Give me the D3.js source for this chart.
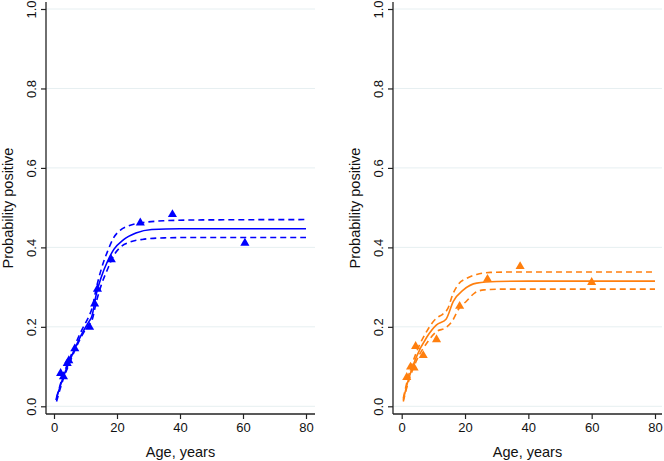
<!DOCTYPE html>
<html>
<head>
<meta charset="utf-8">
<script src="https://cdn.jsdelivr.net/npm/d3@7"></script>
<style>
  body { margin: 0; background: #fff; }
  svg { display: block; font-family: "Liberation Sans", Arial, sans-serif; }
</style>
</head>
<body>
<svg id="chart" width="664" height="461"></svg>
<script>
// tick labels
const xTicks = [0, 20, 40, 60, 80]
const yTicks = [0, 0.2, 0.4, 0.6, 0.8, 1.0]

// observed points, panel A (blue)
const ageA = [2.1, 3.0, 4.2, 4.7, 6.6, 11.3, 12.9, 13.8, 18.2, 27.4, 37.6, 60.6]
const probA = [0.083, 0.075, 0.108, 0.115, 0.145, 0.199, 0.258, 0.295, 0.369, 0.462, 0.483, 0.411]

// fitted curve and bounds, panel A
const fitAgeA = [0.6, 3, 5, 7, 9, 11, 12, 13.5, 15, 17, 19, 22, 26, 31, 40, 80]
const fitA = [0.016, 0.075, 0.115, 0.152, 0.185, 0.212, 0.226, 0.285, 0.325, 0.365, 0.395, 0.419, 0.436, 0.445, 0.447, 0.447]
const bandAgeA = [0.8, 3, 5, 7, 9, 11, 12, 13.5, 15, 17, 19, 21, 24, 28, 35, 45, 80]
const upperA = [0.022, 0.08, 0.12, 0.16, 0.195, 0.225, 0.245, 0.30, 0.345, 0.39, 0.425, 0.443, 0.455, 0.462, 0.467, 0.469, 0.470]
const lowerA = [0.012, 0.07, 0.11, 0.148, 0.18, 0.205, 0.215, 0.265, 0.305, 0.345, 0.38, 0.40, 0.413, 0.42, 0.424, 0.425, 0.425]

// observed points, panel B (orange)
const ageB = [1.6, 2.8, 3.9, 4.4, 6.8, 11.0, 18.3, 27.1, 37.4, 60.0]
const probB = [0.073, 0.099, 0.097, 0.151, 0.128, 0.168, 0.252, 0.32, 0.352, 0.312]

// fitted curve and bounds, panel B
const fitAgeB = [0.5, 2, 4.5, 8, 11, 14, 16.3, 19.5, 23.7, 30, 40, 80]
const fitB = [0.016, 0.064, 0.122, 0.175, 0.205, 0.219, 0.264, 0.293, 0.31, 0.314, 0.315, 0.315]
const upAgeB = [0.5, 2, 4.5, 8, 11, 13, 14.5, 16.3, 18, 20.5, 23.7, 28, 35, 80]
const upperB = [0.02, 0.072, 0.133, 0.19, 0.222, 0.232, 0.245, 0.285, 0.308, 0.322, 0.332, 0.337, 0.338, 0.338]
const loAgeB = [0.5, 2, 4.5, 8, 11, 14, 16, 18, 20.5, 23, 26, 32, 80]
const lowerB = [0.012, 0.058, 0.112, 0.16, 0.188, 0.198, 0.215, 0.245, 0.265, 0.285, 0.293, 0.295, 0.295]

const svg = d3.select('#chart')

const panels = [
  {
    left: 46, right: 315, x0: 54, x80: 306, color: '#0000ff',
    pts: ageA.map((a, i) => [a, probA[i]]),
    fit: fitAgeA.map((a, i) => [a, fitA[i]]),
    upper: bandAgeA.map((a, i) => [a, upperA[i]]),
    lower: bandAgeA.map((a, i) => [a, lowerA[i]]),
  },
  {
    left: 393, right: 662, x0: 401.7, x80: 655, color: '#ff7f0e',
    pts: ageB.map((a, i) => [a, probB[i]]),
    fit: fitAgeB.map((a, i) => [a, fitB[i]]),
    upper: upAgeB.map((a, i) => [a, upperB[i]]),
    lower: loAgeB.map((a, i) => [a, lowerB[i]]),
  },
]

const plotTop = 2
const plotBottom = 414

panels.forEach((p) => {
  const x = d3.scaleLinear().domain([0, 80]).range([p.x0, p.x80])
  const y = d3.scaleLinear().domain([0, 1]).range([406.3, 9])

  const g = svg.append('g')

  // gridlines
  g.selectAll('.grid')
    .data(yTicks)
    .join('line')
    .attr('x1', p.left)
    .attr('x2', p.right)
    .attr('y1', (d) => y(d))
    .attr('y2', (d) => y(d))
    .attr('stroke', '#e6eff1')
    .attr('stroke-width', 1)

  // y axis
  const yAxis = g.append('g')
    .attr('transform', `translate(${p.left},0)`)
    .call(d3.axisLeft(y).tickValues(yTicks).tickFormat(d3.format('.1f')).tickSize(5).tickPadding(4))
  yAxis.select('.domain').attr('d', `M0,${plotTop}V${plotBottom}`).attr('stroke', '#222').attr('stroke-width', 1.3)
  yAxis.selectAll('.tick line').attr('stroke', '#222').attr('stroke-width', 1.2)
  yAxis.selectAll('.tick text')
    .attr('transform', 'rotate(-90)')
    .attr('x', 0)
    .attr('y', -10.5)
    .attr('dy', 0)
    .attr('text-anchor', 'middle')
    .attr('font-size', 13)
    .attr('font-family', '"Liberation Sans", Arial, sans-serif')
    .attr('fill', '#111')

  // x axis
  const xAxis = g.append('g')
    .attr('transform', `translate(0,${plotBottom})`)
    .call(d3.axisBottom(x).tickValues(xTicks).tickSize(5).tickPadding(4))
  xAxis.select('.domain').attr('d', `M${p.left},0H${p.right}`).attr('stroke', '#222').attr('stroke-width', 1.3)
  xAxis.selectAll('.tick line').attr('stroke', '#222').attr('stroke-width', 1.2)
  xAxis.selectAll('.tick text')
    .attr('font-size', 13)
    .attr('font-family', '"Liberation Sans", Arial, sans-serif')
    .attr('fill', '#111')

  // axis titles
  g.append('text')
    .attr('x', (p.left + p.right) / 2)
    .attr('y', 457)
    .attr('text-anchor', 'middle')
    .attr('font-size', 14.5)
    .attr('fill', '#111')
    .text('Age, years')

  g.append('text')
    .attr('transform', `translate(${p.left - 33},${(plotTop + plotBottom) / 2}) rotate(-90)`)
    .attr('text-anchor', 'middle')
    .attr('font-size', 14.5)
    .attr('fill', '#111')
    .text('Probability positive')

  const line = d3.line()
    .x((d) => x(d[0]))
    .y((d) => y(d[1]))
    .curve(d3.curveMonotoneX)

  // confidence bounds
  ;[p.upper, p.lower].forEach((band) => {
    g.append('path')
      .datum(band)
      .attr('d', line)
      .attr('fill', 'none')
      .attr('stroke', p.color)
      .attr('stroke-width', 1.6)
      .attr('stroke-dasharray', '6,4')
  })

  // fitted curve
  g.append('path')
    .datum(p.fit)
    .attr('d', line)
    .attr('fill', 'none')
    .attr('stroke', p.color)
    .attr('stroke-width', 1.6)

  // observed triangles
  g.selectAll('.pt')
    .data(p.pts)
    .join('path')
    .attr('d', d3.symbol().type(d3.symbolTriangle).size(36))
    .attr('transform', (d) => `translate(${x(d[0])},${y(d[1])})`)
    .attr('fill', p.color)
})
</script>
</body>
</html>
